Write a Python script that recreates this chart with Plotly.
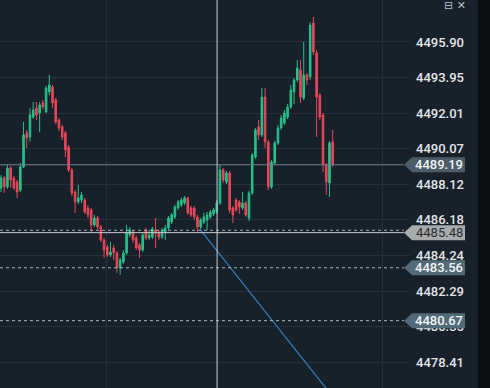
import plotly.graph_objects as go

# ---------------- data ----------------
opens = [4487.92, 4488.47, 4487.98, 4489.01, 4488.47, 4488.25, 4487.81, 4489.07, 4490.93, 4490.71,
         4491.80, 4492.29, 4492.02, 4492.57, 4492.07, 4493.17, 4493.44, 4492.73, 4491.64, 4491.26,
         4490.93, 4490.16, 4488.91, 4487.70, 4487.16, 4487.27, 4487.27, 4486.83, 4486.72, 4485.90,
         4486.28, 4485.79, 4485.08, 4484.70, 4484.26, 4484.64, 4484.37, 4483.55, 4483.88, 4484.37,
         4485.35, 4485.52, 4485.19, 4484.81, 4484.53, 4485.63, 4485.19, 4485.24, 4485.63, 4485.52,
         4485.24, 4485.52, 4485.74, 4486.06, 4486.34, 4486.83, 4486.99, 4487.10, 4487.38, 4486.83,
         4486.83, 4486.34, 4485.79, 4486.06, 4486.17, 4486.34, 4486.50, 4486.61, 4487.10, 4488.91,
         4488.25, 4488.74, 4486.83, 4487.27, 4487.16, 4486.83, 4487.10, 4486.28, 4487.65, 4489.62,
         4491.26, 4490.82, 4492.89, 4490.44, 4487.98, 4489.29, 4490.38, 4491.20, 4491.47, 4491.80,
         4492.35, 4493.17, 4493.82, 4494.37, 4492.84, 4494.10, 4493.99, 4496.94, 4495.30, 4493.00,
         4491.91, 4489.18, 4488.20, 4490.44]
closes = [4488.47, 4487.98, 4489.01, 4488.36, 4487.92, 4487.70, 4489.07, 4490.82, 4490.65, 4491.91,
          4492.18, 4491.91, 4492.46, 4492.35, 4493.39, 4493.55, 4492.57, 4491.53, 4491.20, 4490.71,
          4490.00, 4488.91, 4487.65, 4487.16, 4487.38, 4487.54, 4486.61, 4486.45, 4485.90, 4486.28,
          4485.79, 4485.08, 4484.53, 4484.26, 4484.42, 4484.37, 4483.55, 4483.99, 4484.37, 4485.46,
          4485.63, 4485.08, 4484.64, 4484.53, 4485.35, 4485.19, 4485.35, 4485.68, 4485.46, 4485.24,
          4485.63, 4485.74, 4486.28, 4486.45, 4486.88, 4487.16, 4487.27, 4487.38, 4486.56, 4486.45,
          4486.34, 4485.79, 4486.17, 4486.34, 4486.45, 4486.61, 4486.72, 4487.10, 4488.91, 4488.36,
          4488.74, 4486.72, 4486.45, 4486.72, 4486.88, 4487.10, 4486.45, 4487.65, 4489.73, 4491.09,
          4490.82, 4492.89, 4490.44, 4487.98, 4489.34, 4490.38, 4491.20, 4491.75, 4492.02, 4492.35,
          4493.28, 4493.82, 4494.48, 4492.89, 4494.10, 4493.82, 4496.83, 4495.35, 4492.89, 4491.80,
          4489.18, 4488.25, 4490.38, 4489.19]
highs = [4488.63, 4488.58, 4489.18, 4489.12, 4488.58, 4488.36, 4489.29, 4491.53, 4491.09, 4492.29,
         4492.62, 4492.62, 4492.62, 4492.73, 4493.50, 4494.10, 4493.55, 4492.84, 4491.75, 4491.36,
         4491.04, 4490.27, 4489.01, 4487.81, 4488.09, 4487.70, 4487.38, 4486.99, 4486.83, 4486.45,
         4486.39, 4485.90, 4485.19, 4484.81, 4484.97, 4484.81, 4484.48, 4484.10, 4484.53, 4485.90,
         4485.79, 4485.63, 4485.30, 4484.92, 4485.46, 4485.74, 4485.63, 4485.79, 4486.28, 4485.63,
         4485.74, 4485.90, 4486.39, 4486.56, 4486.99, 4487.27, 4487.38, 4487.48, 4487.43, 4486.94,
         4486.94, 4486.45, 4486.28, 4486.56, 4486.61, 4486.72, 4486.83, 4487.27, 4489.18, 4489.01,
         4488.85, 4488.85, 4486.94, 4487.38, 4487.27, 4487.70, 4487.21, 4487.76, 4489.83, 4491.20,
         4491.64, 4493.39, 4493.39, 4490.55, 4489.45, 4490.49, 4491.36, 4491.91, 4492.18, 4492.51,
         4493.55, 4493.93, 4494.92, 4494.92, 4495.90, 4494.21, 4496.99, 4497.27, 4495.46, 4493.11,
         4492.02, 4489.29, 4490.49, 4491.09]
lows = [4487.70, 4487.65, 4487.87, 4487.92, 4487.81, 4487.38, 4487.70, 4489.01, 4490.11, 4490.44,
        4491.69, 4491.64, 4490.98, 4492.24, 4492.02, 4493.00, 4492.29, 4491.42, 4491.04, 4490.55,
        4489.62, 4488.80, 4487.48, 4486.56, 4487.05, 4487.10, 4486.50, 4486.28, 4485.52, 4485.79,
        4485.68, 4484.97, 4484.10, 4484.15, 4484.15, 4483.99, 4483.28, 4483.17, 4483.77, 4484.26,
        4485.24, 4484.92, 4484.53, 4484.10, 4484.42, 4485.08, 4485.08, 4485.13, 4484.64, 4485.08,
        4485.13, 4485.08, 4485.63, 4485.95, 4486.23, 4486.72, 4486.88, 4486.99, 4486.45, 4486.34,
        4486.17, 4485.52, 4485.68, 4485.95, 4485.63, 4486.23, 4486.39, 4486.50, 4486.99, 4488.20,
        4488.14, 4486.56, 4486.01, 4486.61, 4486.50, 4486.72, 4486.34, 4486.12, 4487.54, 4489.51,
        4490.55, 4490.71, 4490.11, 4487.81, 4487.87, 4489.18, 4490.27, 4491.09, 4491.36, 4491.69,
        4492.24, 4492.51, 4493.71, 4492.57, 4492.73, 4493.55, 4493.82, 4495.19, 4490.71, 4491.64,
        4488.80, 4487.54, 4487.43, 4489.07]
bar_index = list(range(len(opens)))

price_ticks = [4478.41, 4480.35, 4482.29, 4484.24, 4486.18, 4488.12, 4490.07, 4492.01, 4493.95, 4495.90]
tick_labels = ["4478.41", "4480.35", "4482.29", "4484.24", "4486.18", "4488.12", "4490.07", "4492.01", "4493.95", "4495.90"]

last_price = 4489.19
crosshair_price = 4485.48
crosshair_bar = 67.1
order_prices = [4485.61, 4483.56, 4480.67]
labelled_orders = [4483.56, 4480.67]
time_grid = [32.9, 118.6]

trend_x = [61.8, 110.0]
trend_y = [4485.66, 4474.96]

# ---------------- styling ----------------
BG = "#182029"
GRID = "#27303a"
GREEN = "#27c08a"
RED = "#e8485a"
TXT = "#e2e6ea"
LABEL_FONT = dict(family="Roboto", size=13, color="#f2f4f6", weight=500)

fig = go.Figure()
fig.add_trace(go.Candlestick(
    x=bar_index, open=opens, high=highs, low=lows, close=closes,
    increasing=dict(line=dict(color=GREEN, width=1), fillcolor=GREEN),
    decreasing=dict(line=dict(color=RED, width=1), fillcolor=RED),
    whiskerwidth=0, showlegend=False, hoverinfo="skip"))

fig.add_trace(go.Scatter(x=trend_x, y=trend_y, mode="lines",
                         line=dict(color="#2f80c4", width=1.2),
                         showlegend=False, hoverinfo="skip"))

shapes = []
shapes.append(dict(type="line", xref="paper", x0=0, x1=0.985, yref="y", y0=last_price, y1=last_price,
                   line=dict(color="#6f7f8b", width=1), layer="above"))
for p in order_prices:
    shapes.append(dict(type="line", xref="paper", x0=0, x1=0.985, yref="y", y0=p, y1=p,
                       line=dict(color="#a9b7c1", width=1, dash="3px,3px"), layer="above"))
shapes.append(dict(type="line", xref="paper", x0=0, x1=0.985, yref="y", y0=crosshair_price, y1=crosshair_price,
                   line=dict(color="#c9cdd1", width=1), layer="above"))
shapes.append(dict(type="line", xref="x", x0=crosshair_bar, x1=crosshair_bar, yref="paper", y0=0, y1=1,
                   line=dict(color="#c9cdd1", width=1), layer="above"))

half = 7.5 / 18.3  # label half-height in price units


def tag(p, fill):
    xt, xb, xr = 404 / 410, 412 / 410, 465 / 410
    path = (f"M {xt} {p} L {xb} {p + half} L {xr} {p + half} "
            f"L {xr} {p - half} L {xb} {p - half} Z")
    return dict(type="path", xref="paper", yref="y", path=path,
                fillcolor=fill, line=dict(width=0), layer="above")


annotations = []
shapes.append(tag(last_price, "#4b5c68"))
annotations.append(dict(xref="paper", yref="y", x=439 / 410, xanchor="center", y=last_price,
                        text=f"{last_price:.2f}", showarrow=False, font=LABEL_FONT))
for p in labelled_orders:
    shapes.append(tag(p, "#536a79"))
    annotations.append(dict(xref="paper", yref="y", x=439 / 410, xanchor="center", y=p,
                            text=f"{p:.2f}", showarrow=False, font=LABEL_FONT))
shapes.append(tag(crosshair_price, "#a9abad"))
annotations.append(dict(xref="paper", yref="y", x=439 / 410, xanchor="center", y=crosshair_price,
                        text=f"{crosshair_price:.2f}", showarrow=False,
                        font=dict(family="Roboto", size=13, color="#2a2d31", weight=400)))

shapes.append(dict(type="rect", xref="paper", x0=478 / 410, x1=1.2, yref="paper", y0=0, y1=1,
                   fillcolor="#0c0f12", line=dict(width=0), layer="above"))
annotations.append(dict(xref="paper", yref="paper", x=455 / 410, xanchor="center", y=1.0, yshift=3,
                        text="⊟ ✕", showarrow=False,
                        font=dict(family="DejaVu Sans", size=11, color="#b4bcc4")))

fig.update_layout(
    width=490, height=388,
    margin=dict(l=0, r=80, t=0, b=0),
    paper_bgcolor=BG, plot_bgcolor=BG,
    shapes=shapes, annotations=annotations,
    xaxis=dict(range=[-0.31, 127.0], rangeslider=dict(visible=False), showticklabels=False,
               tickvals=time_grid, showgrid=True, gridcolor=GRID, gridwidth=1,
               zeroline=False, showline=False, ticks=""),
    yaxis=dict(range=[4476.99, 4498.195], side="right", tickvals=price_ticks, ticktext=tick_labels,
               showgrid=True, gridcolor=GRID, gridwidth=1, zeroline=False, showline=False, ticks="",
               ticklabelstandoff=5,
               tickfont=dict(family="Roboto", size=13, color=TXT, weight=500)),
)

fig.write_html("out.html", config={"displayModeBar": False},
               post_script="document.body.style.margin='0';document.body.style.background='#182029';")
